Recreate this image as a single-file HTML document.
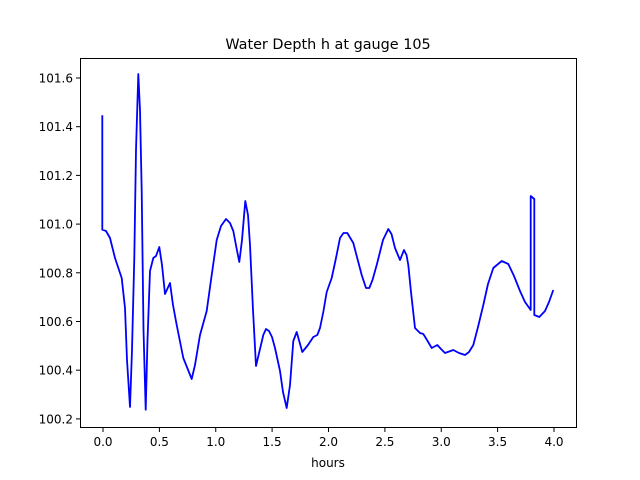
<!DOCTYPE html>
<html><head><meta charset="utf-8"><style>body{margin:0;background:#fff}svg{display:block}text{font-family:"DejaVu Sans","Liberation Sans",sans-serif;font-size:12px;fill:#000}</style></head><body>
<svg width="640" height="480" xmlns="http://www.w3.org/2000/svg">
<rect width="640" height="480" fill="#fff"/>
<text x="328" y="49" text-anchor="middle" style="font-size:14.4px">Water Depth h at gauge 105</text>
<polyline fill="none" stroke="#0000ff" stroke-width="1.8" stroke-linejoin="round" points="102.3,115.3 102.3,229.7 106,231 110,238 115,258 121.7,278 125,308 127,360 130,407 132,350 134.3,258 136,150 138.3,74 140,110 141.7,191 143.5,330 145.7,409.7 147.5,340 150,271 153.3,258 156,256 159.3,247 162,265 165,294 170,283 173,305 176.7,325 183.3,358 191.7,379 195,365 200,335 206.7,311 211,280 216.7,240 221,226 226,219 230,223 233.3,231 236.5,248 239.3,262 242,240 245.3,201 248,215 250,245 253,310 256,366 263.3,335 266,329 269,331 272,337 275,348 280,371 283,392 286.7,408 290,385 293.3,341 296.7,332 302.3,352 308,345 313.3,337 317.3,335 320,328 323.3,312 326.7,292 331.7,278 336,258 340,238 343.5,233 347.3,233 353.3,243 361.7,275 366,288 369.3,288 372.5,280 376.7,265 383,240 388.3,229 391.5,234 395,248 400,260 404,250 406.5,255 408.3,265 411,292 415,328 420,333 423.3,334 427,340 431.7,348 437.3,345 441,349 445,353 453.3,350 459,353 465,355 469,352 473.3,345 478,327 483.3,305 488,284 493.3,268 501.7,261 508.3,264 514,276 520,291 525,302 530.7,310 530.7,196 534.3,199 534.3,315 539.3,317 545,311 549,302 553.3,290"/>
<rect x="80.5" y="58.5" width="496" height="369" fill="none" stroke="#000" stroke-width="1"/>
<g stroke="#000" stroke-width="1">
<line x1="103" y1="428" x2="103" y2="432"/><line x1="159.4" y1="428" x2="159.4" y2="432"/><line x1="215.75" y1="428" x2="215.75" y2="432"/><line x1="272.1" y1="428" x2="272.1" y2="432"/><line x1="328.5" y1="428" x2="328.5" y2="432"/><line x1="384.9" y1="428" x2="384.9" y2="432"/><line x1="441.25" y1="428" x2="441.25" y2="432"/><line x1="497.6" y1="428" x2="497.6" y2="432"/><line x1="554" y1="428" x2="554" y2="432"/>
<line x1="76" y1="78" x2="80" y2="78"/><line x1="76" y1="126.7" x2="80" y2="126.7"/><line x1="76" y1="175.4" x2="80" y2="175.4"/><line x1="76" y1="224.1" x2="80" y2="224.1"/><line x1="76" y1="272.8" x2="80" y2="272.8"/><line x1="76" y1="321.5" x2="80" y2="321.5"/><line x1="76" y1="370.2" x2="80" y2="370.2"/><line x1="76" y1="418.9" x2="80" y2="418.9"/>
</g>
<g text-anchor="middle">
<text x="103" y="446">0.0</text><text x="159.4" y="446">0.5</text><text x="215.75" y="446">1.0</text><text x="272.1" y="446">1.5</text><text x="328.5" y="446">2.0</text><text x="384.9" y="446">2.5</text><text x="441.25" y="446">3.0</text><text x="497.6" y="446">3.5</text><text x="554" y="446">4.0</text>
<text x="328" y="467">hours</text>
</g>
<g text-anchor="end">
<text x="73" y="82.5">101.6</text><text x="73" y="131.2">101.4</text><text x="73" y="179.9">101.2</text><text x="73" y="228.6">101.0</text><text x="73" y="277.3">100.8</text><text x="73" y="326">100.6</text><text x="73" y="374.7">100.4</text><text x="73" y="423.4">100.2</text>
</g>
</svg>
</body></html>
